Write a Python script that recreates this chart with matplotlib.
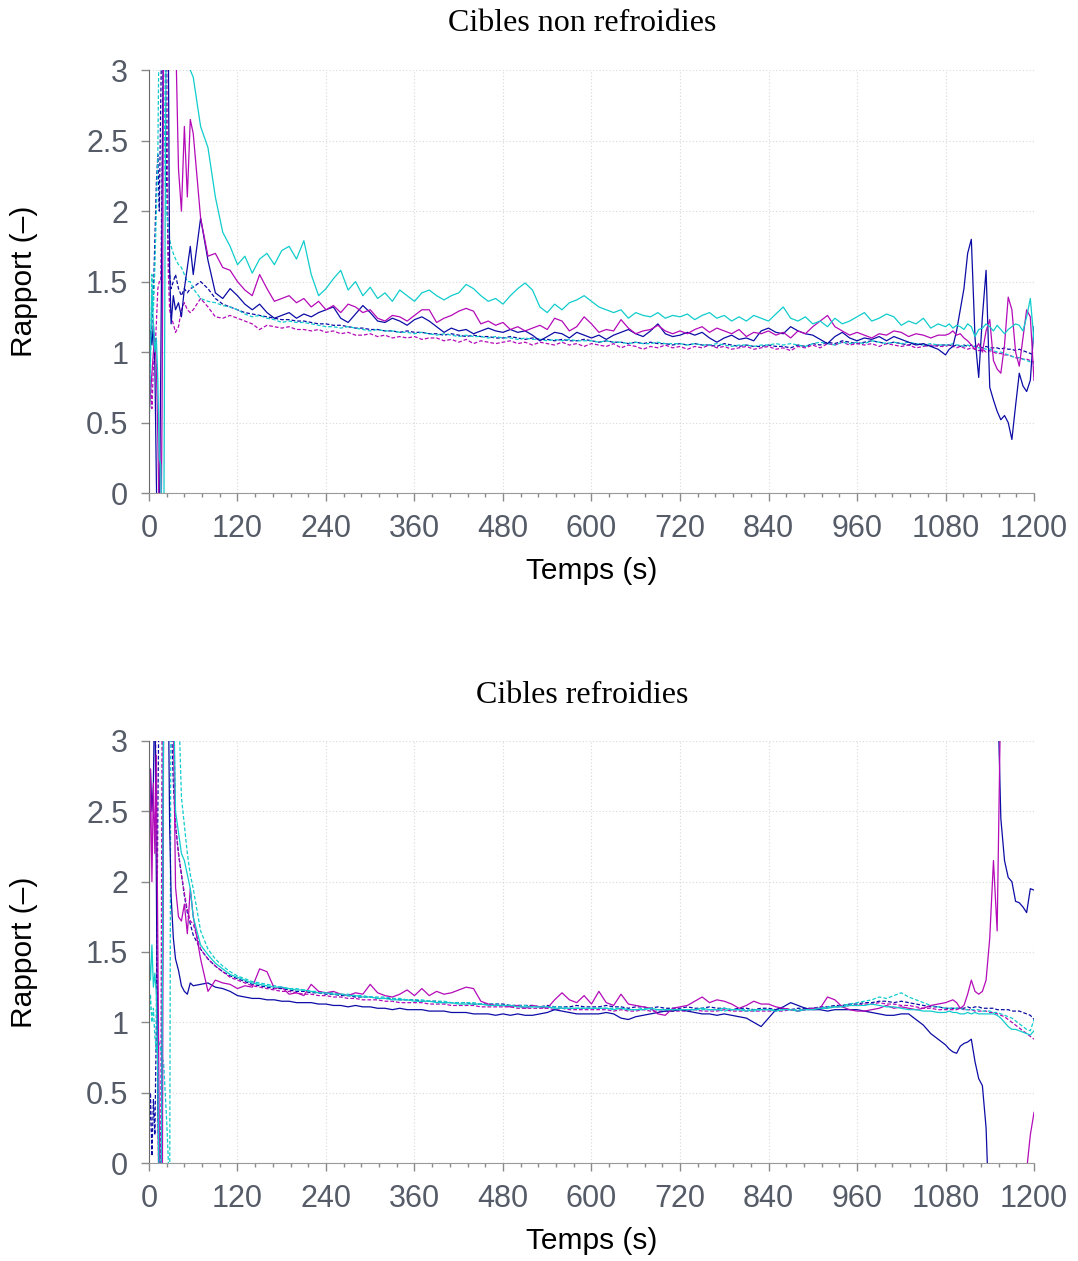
import matplotlib
matplotlib.use("Agg")
import matplotlib.pyplot as plt
from matplotlib.ticker import MultipleLocator, FormatStrFormatter
import numpy as np

# grilles de temps (s)
T_EARLY = [0, 2, 4, 6, 8, 10, 12, 14, 16, 18, 20, 22, 24, 26, 28, 30, 33, 36, 40, 44, 48, 52, 56]
T_MAIN = np.arange(60, 1081, 10)
T_TAIL = np.arange(1085, 1201, 5)
NAN = np.nan

# ---------------- Cibles non refroidies ----------------
top_navy_solid_early = [1.10, 1.15, 1.05, 1.20, 0.90, 0.10, -0.6, -0.3, 0.90, 2.20, 3.60, 4.00,
                        3.80, 3.40, 1.60, 1.20, 1.40, 1.30, 1.35, 1.25, 1.45, 1.60, 1.75]
top_navy_solid_main = [1.55, 1.95, 1.65, 1.42, 1.38, 1.45,
                       1.40, 1.34, 1.30, 1.34, 1.28, 1.24, 1.26, 1.28, 1.24, 1.27, 1.25, 1.28,
                       1.30, 1.32, 1.24, 1.21, 1.27, 1.33, 1.28, 1.22, 1.21, 1.24, 1.22, 1.19,
                       1.23, 1.25, 1.22, 1.18, 1.14, 1.17, 1.15, 1.16, 1.13, 1.15, 1.17, 1.15,
                       1.14, 1.16, 1.14, 1.15, 1.12, 1.08, 1.11, 1.14, 1.13, 1.10, 1.14, 1.12,
                       1.10, 1.12, 1.09, 1.12, 1.14, 1.16, 1.13, 1.11, 1.15, 1.20, 1.13, 1.11,
                       1.12, 1.14, 1.12, 1.14, 1.10, 1.07, 1.10, 1.12, 1.09, 1.10, 1.08, 1.15,
                       1.17, 1.14, 1.13, 1.18, 1.15, 1.13, 1.12, 1.09, 1.06, 1.11, 1.14, 1.10,
                       1.08, 1.10, 1.09, 1.11, 1.08, 1.11, 1.09, 1.07, 1.05, 1.06, 1.04, 1.02,
                       0.98]
top_navy_solid_tail = [1.02, 1.04, 1.15, 1.30, 1.45, 1.70, 1.80, 1.10, 0.82, 1.25, 1.58, 0.75,
                       0.66, 0.58, 0.52, 0.55, 0.50, 0.38, 0.62, 0.85, 0.76, 0.72, 0.80, 1.18]

top_magenta_solid_early = [0.55, 0.70, 0.85, 1.00, 1.10, 0.90, 0.40, -0.3, -0.6, 0.80, 3.50, 4.00,
                           4.00, 4.00, 4.00, 3.80, 3.60, 3.30, 2.30, 2.00, 2.60, 2.10, 2.65]
top_magenta_solid_main = [2.55, 1.95, 1.68, 1.70, 1.60, 1.58,
                          1.50, 1.44, 1.40, 1.55, 1.45, 1.36, 1.38, 1.40, 1.35, 1.38, 1.32, 1.36,
                          1.30, 1.33, 1.28, 1.34, 1.32, 1.28, 1.30, 1.24, 1.22, 1.26, 1.25, 1.22,
                          1.26, 1.30, 1.30, 1.21, 1.24, 1.26, 1.29, 1.31, 1.29, 1.20, 1.22, 1.19,
                          1.21, 1.16, 1.18, 1.15, 1.17, 1.19, 1.16, 1.24, 1.22, 1.15, 1.18, 1.25,
                          1.20, 1.14, 1.16, 1.15, 1.23, 1.17, 1.13, 1.15, 1.16, 1.19, 1.15, 1.13,
                          1.15, 1.13, 1.16, 1.18, 1.14, 1.17, 1.15, 1.13, 1.16, 1.11, 1.14, 1.13,
                          1.15, 1.12, 1.14, 1.10, 1.15, 1.13, 1.18, 1.22, 1.26, 1.18, 1.15, 1.12,
                          1.14, 1.12, 1.10, 1.13, 1.12, 1.15, 1.14, 1.11, 1.13, 1.12, 1.10, 1.12,
                          1.12]
top_magenta_solid_tail = [1.13, 1.15, 1.12, 1.13, 1.10, 1.08, 1.05, 1.02, 1.06, 1.00, 1.15, 1.23,
                          0.94, 0.88, 0.85, 1.05, 1.39, 1.30, 1.00, 0.90, 1.10, 1.30, 1.25, 0.80]

top_cyan_solid_early = [0.40, 1.00, 1.45, 1.20, 1.00, 1.10, 0.80, 0.25, 0.20, -0.4, -0.4, 2.00,
                        4.00, 4.00, 4.00, 4.00, 4.00, 3.60, 3.30, 3.20, 3.40, 3.10, 3.00]
top_cyan_solid_main = [2.95, 2.60, 2.45, 2.10, 1.85, 1.75,
                       1.62, 1.68, 1.56, 1.66, 1.70, 1.62, 1.72, 1.75, 1.66, 1.79, 1.55, 1.40,
                       1.45, 1.52, 1.58, 1.44, 1.50, 1.40, 1.46, 1.38, 1.42, 1.36, 1.44, 1.40,
                       1.36, 1.42, 1.44, 1.40, 1.37, 1.40, 1.42, 1.48, 1.45, 1.40, 1.36, 1.38,
                       1.34, 1.40, 1.45, 1.49, 1.44, 1.32, 1.28, 1.34, 1.30, 1.35, 1.37, 1.40,
                       1.36, 1.32, 1.30, 1.28, 1.30, 1.24, 1.28, 1.26, 1.25, 1.28, 1.24, 1.26,
                       1.25, 1.27, 1.23, 1.26, 1.28, 1.24, 1.26, 1.22, 1.25, 1.22, 1.26, 1.24,
                       1.22, 1.27, 1.32, 1.24, 1.22, 1.25, 1.20, 1.22, 1.18, 1.24, 1.20, 1.22,
                       1.25, 1.28, 1.22, 1.24, 1.27, 1.25, 1.19, 1.22, 1.20, 1.24, 1.17, 1.20,
                       1.18]
top_cyan_solid_tail = [1.20, 1.17, 1.19, 1.18, 1.16, 1.20, 1.18, 1.11, 1.16, 1.17, 1.20, 1.18,
                       1.15, 1.19, 1.16, 1.13, 1.16, 1.18, 1.20, 1.19, 1.15, 1.25, 1.38, 1.08]

top_navy_dash_early = [1.00, 1.10, 1.20, 1.40, 1.80, 2.20, 2.40, 2.00, 2.80, 3.50, 4.00, 3.50,
                       2.20, 1.70, 1.55, 1.45, 1.50, 1.55, 1.45, 1.40, 1.45, 1.42, 1.45]
top_navy_dash_main = [1.46, 1.50, 1.45, 1.38, 1.34, 1.32,
                      1.30, 1.28, 1.27, 1.26, 1.25, 1.24, 1.23, 1.23, 1.22, 1.22, 1.21, 1.20,
                      1.20, 1.19, 1.19, 1.18, 1.17, 1.17, 1.16, 1.16, 1.15, 1.15, 1.14, 1.15,
                      1.14, 1.14, 1.13, 1.13, 1.12, 1.13, 1.12, 1.11, 1.12, 1.11, 1.11, 1.10,
                      1.10, 1.11, 1.10, 1.09, 1.10, 1.09, 1.09, 1.08, 1.09, 1.08, 1.08, 1.09,
                      1.08, 1.07, 1.08, 1.07, 1.07, 1.06, 1.07, 1.06, 1.07, 1.06, 1.06, 1.05,
                      1.06, 1.05, 1.06, 1.05, 1.05, 1.04, 1.06, 1.05, 1.04, 1.05, 1.04, 1.04,
                      1.05, 1.04, 1.04, 1.03, 1.05, 1.04, 1.06, 1.05, 1.07, 1.06, 1.08, 1.07,
                      1.06, 1.07, 1.08, 1.07, 1.06, 1.07, 1.06, 1.05, 1.06, 1.05, 1.04, 1.05,
                      1.05]
top_navy_dash_tail = [1.05, 1.04, 1.05, 1.04, 1.05, 1.04, 1.05, 1.04, 1.04, 1.03, 1.04, 1.03,
                      1.03, 1.03, 1.02, 1.03, 1.02, 1.02, 1.01, 1.02, 1.01, 1.00, 0.99, 0.98]

top_magenta_dash_early = [0.70, 0.80, 0.60, 0.90, 1.00, 1.20, 1.45, 1.50, 1.50, 2.40, 3.50, 3.80,
                          3.20, 1.60, 1.30, 1.25, 1.20, 1.14, 1.18, 1.30, 1.35, 1.30, 1.28]
top_magenta_dash_main = [1.30, 1.38, 1.32, 1.25, 1.24, 1.26,
                         1.24, 1.22, 1.20, 1.16, 1.19, 1.18, 1.17, 1.18, 1.16, 1.16, 1.15, 1.16,
                         1.14, 1.15, 1.13, 1.14, 1.12, 1.12, 1.13, 1.11, 1.12, 1.10, 1.11, 1.10,
                         1.11, 1.09, 1.10, 1.10, 1.08, 1.09, 1.07, 1.09, 1.06, 1.08, 1.07, 1.06,
                         1.07, 1.08, 1.06, 1.07, 1.05, 1.07, 1.06, 1.05, 1.07, 1.05, 1.06, 1.04,
                         1.06, 1.05, 1.04, 1.06, 1.03, 1.05, 1.04, 1.02, 1.04, 1.03, 1.05, 1.03,
                         1.04, 1.02, 1.04, 1.03, 1.05, 1.03, 1.04, 1.02, 1.03, 1.04, 1.02, 1.03,
                         1.04, 1.02, 1.03, 1.01, 1.04, 1.03, 1.05, 1.03, 1.06, 1.05, 1.07, 1.05,
                         1.06, 1.05, 1.06, 1.04, 1.06, 1.05, 1.04, 1.05, 1.03, 1.04, 1.05, 1.04,
                         1.04]
top_magenta_dash_tail = [1.05, 1.04, 1.03, 1.04, 1.03, 1.02, 1.03, 1.02, 1.01, 1.02, 1.00, 1.01,
                         1.00, 0.99, 0.99, 0.98, 0.98, 0.97, 0.96, 0.96, 0.95, 0.95, 0.94, 0.93]

top_cyan_dash_early = [0.40, 0.90, 1.55, 1.30, 1.60, 2.00, 2.40, 3.50, 4.00, 3.80, 3.00, 2.20,
                       2.00, 1.90, 1.80, 1.75, 1.70, 1.66, 1.62, 1.60, 1.55, 1.50, 1.50]
top_cyan_dash_main = [1.45, 1.38, 1.36, 1.35, 1.33, 1.32,
                      1.30, 1.27, 1.25, 1.26, 1.24, 1.23, 1.21, 1.22, 1.21, 1.21, 1.20, 1.19,
                      1.18, 1.18, 1.17, 1.18, 1.17, 1.16, 1.15, 1.16, 1.15, 1.15, 1.14, 1.14,
                      1.13, 1.14, 1.13, 1.12, 1.13, 1.12, 1.11, 1.12, 1.11, 1.11, 1.10, 1.11,
                      1.10, 1.10, 1.09, 1.10, 1.09, 1.09, 1.08, 1.09, 1.08, 1.09, 1.08, 1.08,
                      1.08, 1.07, 1.08, 1.07, 1.07, 1.06, 1.07, 1.06, 1.06, 1.07, 1.06, 1.06,
                      1.06, 1.05, 1.06, 1.05, 1.05, 1.06, 1.05, 1.04, 1.05, 1.05, 1.04, 1.05,
                      1.05, 1.06, 1.05, 1.06, 1.05, 1.04, 1.06, 1.07, 1.06, 1.05, 1.07, 1.06,
                      1.07, 1.06, 1.08, 1.07, 1.06, 1.07, 1.06, 1.07, 1.06, 1.05, 1.06, 1.05,
                      1.05]
top_cyan_dash_tail = [1.05, 1.06, 1.05, 1.05, 1.04, 1.05, 1.04, 1.04, 1.03, 1.03, 1.02, 1.02,
                      1.01, 1.00, 1.00, 0.99, 0.98, 0.97, 0.96, 0.96, 0.95, 0.94, 0.93, 0.92]

# ---------------- Cibles refroidies ----------------
bot_navy_solid_early = [2.60, 2.80, 2.50, 2.70, 3.50, 2.00, 0.50, -0.5, -0.5, 1.00, 3.50, 4.00,
                        4.00, 3.50, 2.40, 1.90, 1.60, 1.45, 1.37, 1.26, 1.22, 1.20, 1.28]
bot_navy_solid_main = [1.26, 1.27, 1.28, 1.25, 1.24, 1.22,
                       1.19, 1.18, 1.17, 1.17, 1.16, 1.16, 1.15, 1.15, 1.14, 1.14, 1.14, 1.13,
                       1.13, 1.12, 1.12, 1.11, 1.12, 1.11, 1.11, 1.10, 1.10, 1.09, 1.10, 1.09,
                       1.09, 1.09, 1.08, 1.08, 1.08, 1.07, 1.07, 1.07, 1.06, 1.06, 1.06, 1.05,
                       1.06, 1.05, 1.06, 1.05, 1.05, 1.06, 1.07, 1.09, 1.08, 1.07, 1.06, 1.06,
                       1.06, 1.06, 1.07, 1.06, 1.03, 1.02, 1.04, 1.05, 1.06, 1.07, 1.08, 1.08,
                       1.09, 1.08, 1.07, 1.06, 1.06, 1.05, 1.06, 1.05, 1.04, 1.03, 1.00, 0.97,
                       1.03, 1.09, 1.11, 1.14, 1.12, 1.10, 1.09, 1.09, 1.08, 1.09, 1.09, 1.09,
                       1.09, 1.08, 1.07, 1.06, 1.05, 1.05, 1.06, 1.06, 1.02, 0.98, 0.92, 0.88,
                       0.84]
bot_navy_solid_tail = [0.81, 0.79, 0.78, 0.83, 0.85, 0.86, 0.88, 0.72, 0.60, 0.55, 0.25, -0.5,
                       NAN, 3.50, 2.45, 2.15, 2.03, 2.00, 1.86, 1.85, 1.82, 1.78, 1.95, 1.94]

bot_magenta_solid_early = [1.70, 2.80, 2.00, 2.70, 2.20, 2.90, 1.50, 0.20, -0.5, -0.5, 3.50, 4.00,
                           4.00, 4.00, 4.00, 3.60, 3.20, 1.96, 1.75, 1.72, 1.84, 1.63, 1.95]
bot_magenta_solid_main = [1.75, 1.45, 1.22, 1.30, 1.28, 1.27,
                          1.24, 1.26, 1.25, 1.38, 1.36, 1.24, 1.25, 1.20, 1.21, 1.19, 1.27, 1.22,
                          1.21, 1.22, 1.20, 1.19, 1.21, 1.20, 1.27, 1.21, 1.19, 1.18, 1.20, 1.23,
                          1.19, 1.24, 1.19, 1.22, 1.20, 1.21, 1.23, 1.25, 1.24, 1.15, 1.13, 1.12,
                          1.12, 1.11, 1.12, 1.10, 1.12, 1.11, 1.10, 1.16, 1.21, 1.16, 1.14, 1.19,
                          1.13, 1.22, 1.14, 1.12, 1.20, 1.13, 1.12, 1.11, 1.10, 1.06, 1.05, 1.10,
                          1.11, 1.12, 1.15, 1.18, 1.14, 1.16, 1.15, 1.13, 1.10, 1.12, 1.15, 1.13,
                          1.13, 1.11, 1.10, 1.09, 1.08, 1.09, 1.10, 1.10, 1.18, 1.16, 1.11, 1.09,
                          1.08, 1.08, 1.09, 1.10, 1.12, 1.10, 1.11, 1.10, 1.09, 1.10, 1.12, 1.13,
                          1.14]
bot_magenta_solid_tail = [1.15, 1.16, 1.14, 1.10, 1.12, 1.20, 1.30, 1.22, 1.20, 1.22, 1.30, 1.60,
                          2.15, 1.65, 3.40, NAN, NAN, NAN, NAN, NAN, NAN, -0.05, 0.20, 0.36]

bot_cyan_solid_early = [1.50, 1.30, 1.55, 1.25, 1.35, 1.20, 0.60, -0.3, -0.5, 1.00, 3.50, 4.00,
                        4.00, 4.00, 4.00, 4.00, 3.50, 2.50, 2.35, 2.20, 2.15, 2.05, 1.95]
bot_cyan_solid_main = [1.75, 1.55, 1.48, 1.42, 1.38, 1.34,
                       1.32, 1.30, 1.28, 1.27, 1.26, 1.25, 1.25, 1.24, 1.23, 1.23, 1.22, 1.21,
                       1.21, 1.20, 1.20, 1.19, 1.19, 1.18, 1.18, 1.17, 1.17, 1.16, 1.16, 1.16,
                       1.15, 1.15, 1.15, 1.14, 1.14, 1.14, 1.13, 1.13, 1.13, 1.13, 1.12, 1.12,
                       1.12, 1.12, 1.11, 1.11, 1.11, 1.11, 1.11, 1.10, 1.10, 1.10, 1.10, 1.10,
                       1.10, 1.10, 1.10, 1.09, 1.10, 1.09, 1.09, 1.09, 1.10, 1.09, 1.09, 1.09,
                       1.09, 1.09, 1.09, 1.10, 1.09, 1.09, 1.10, 1.09, 1.09, 1.08, 1.09, 1.09,
                       1.09, 1.08, 1.09, 1.09, 1.08, 1.09, 1.09, 1.10, 1.10, 1.11, 1.11, 1.12,
                       1.12, 1.12, 1.13, 1.12, 1.11, 1.11, 1.10, 1.09, 1.09, 1.08, 1.08, 1.07,
                       1.07]
bot_cyan_solid_tail = [1.08, 1.07, 1.07, 1.06, 1.06, 1.07, 1.06, 1.07, 1.06, 1.06, 1.06, 1.06,
                       1.06, 1.05, 1.03, 1.00, 0.97, 0.95, 0.95, 0.94, 0.93, 0.92, 0.91, 0.94]

bot_navy_dash_early = [0.10, 0.50, 0.05, 0.45, 0.20, 1.00, 2.50, 3.50, 4.00, 4.00, 4.00, 4.00,
                       4.00, 4.00, 3.60, 3.20, 2.70, 2.40, 2.20, 2.05, 1.90, 1.78, 1.70]
bot_navy_dash_main = [1.62, 1.52, 1.45, 1.40, 1.36, 1.33,
                      1.31, 1.29, 1.27, 1.26, 1.25, 1.24, 1.24, 1.23, 1.22, 1.22, 1.21, 1.21,
                      1.20, 1.20, 1.19, 1.19, 1.18, 1.18, 1.18, 1.17, 1.17, 1.17, 1.16, 1.16,
                      1.16, 1.15, 1.15, 1.15, 1.14, 1.14, 1.14, 1.14, 1.13, 1.13, 1.13, 1.13,
                      1.13, 1.12, 1.12, 1.12, 1.12, 1.11, 1.12, 1.11, 1.11, 1.11, 1.12, 1.11,
                      1.11, 1.11, 1.12, 1.11, 1.11, 1.10, 1.11, 1.11, 1.10, 1.11, 1.10, 1.10,
                      1.10, 1.11, 1.10, 1.10, 1.11, 1.10, 1.10, 1.09, 1.10, 1.10, 1.09, 1.10,
                      1.10, 1.09, 1.10, 1.09, 1.10, 1.10, 1.10, 1.11, 1.11, 1.12, 1.12, 1.13,
                      1.13, 1.14, 1.14, 1.15, 1.15, 1.14, 1.15, 1.14, 1.13, 1.12, 1.11, 1.11,
                      1.10]
bot_navy_dash_tail = [1.10, 1.10, 1.10, 1.10, 1.10, 1.11, 1.10, 1.11, 1.11, 1.10, 1.10, 1.10,
                      1.10, 1.09, 1.09, 1.09, 1.09, 1.08, 1.08, 1.08, 1.07, 1.06, 1.05, 1.02]

bot_magenta_dash_early = [3.50, 3.20, 3.50, 3.00, 3.50, 2.50, 0.50, -0.5, 0.30, 3.50, 4.00, 4.00,
                          4.00, 4.00, 4.00, 3.80, 3.40, 2.40, 2.20, 2.05, 1.92, 1.80, 1.72]
bot_magenta_dash_main = [1.70, 1.52, 1.45, 1.40, 1.36, 1.32,
                         1.30, 1.28, 1.26, 1.25, 1.24, 1.23, 1.22, 1.22, 1.21, 1.20, 1.20, 1.19,
                         1.19, 1.18, 1.18, 1.17, 1.17, 1.16, 1.16, 1.16, 1.15, 1.15, 1.14, 1.14,
                         1.14, 1.14, 1.13, 1.13, 1.13, 1.12, 1.12, 1.12, 1.12, 1.11, 1.11, 1.11,
                         1.11, 1.11, 1.10, 1.10, 1.10, 1.10, 1.10, 1.09, 1.10, 1.09, 1.09, 1.09,
                         1.09, 1.09, 1.09, 1.08, 1.09, 1.08, 1.08, 1.09, 1.08, 1.08, 1.08, 1.08,
                         1.08, 1.08, 1.09, 1.08, 1.08, 1.08, 1.09, 1.08, 1.08, 1.08, 1.08, 1.08,
                         1.08, 1.08, 1.08, 1.09, 1.08, 1.09, 1.09, 1.10, 1.10, 1.11, 1.11, 1.12,
                         1.12, 1.13, 1.13, 1.14, 1.13, 1.13, 1.12, 1.12, 1.11, 1.10, 1.10, 1.09,
                         1.09]
bot_magenta_dash_tail = [1.09, 1.09, 1.09, 1.10, 1.09, 1.09, 1.09, 1.08, 1.08, 1.08, 1.08, 1.07,
                         1.07, 1.06, 1.05, 1.04, 1.02, 1.00, 0.98, 0.96, 0.94, 0.92, 0.90, 0.88]

bot_cyan_dash_early = [1.00, 1.20, 1.00, 1.10, 0.90, 0.80, 0.90, 0.85, 0.80, 0.75, 0.70, 0.50,
                       0.30, 0.05, -0.4, 4.00, 4.00, 4.00, 3.30, 2.60, 2.40, 2.20, 2.05]
bot_cyan_dash_main = [1.95, 1.65, 1.52, 1.45, 1.40, 1.36,
                      1.33, 1.31, 1.29, 1.28, 1.27, 1.26, 1.25, 1.24, 1.24, 1.23, 1.22, 1.22,
                      1.21, 1.21, 1.20, 1.20, 1.19, 1.19, 1.18, 1.18, 1.18, 1.17, 1.17, 1.16,
                      1.16, 1.16, 1.15, 1.15, 1.15, 1.14, 1.14, 1.14, 1.14, 1.13, 1.13, 1.13,
                      1.12, 1.12, 1.12, 1.12, 1.11, 1.11, 1.11, 1.11, 1.11, 1.10, 1.10, 1.10,
                      1.10, 1.10, 1.10, 1.10, 1.10, 1.09, 1.09, 1.10, 1.09, 1.09, 1.09, 1.09,
                      1.09, 1.09, 1.09, 1.09, 1.09, 1.09, 1.08, 1.09, 1.09, 1.09, 1.08, 1.09,
                      1.09, 1.09, 1.09, 1.09, 1.09, 1.09, 1.10, 1.10, 1.11, 1.11, 1.12, 1.13,
                      1.14, 1.15, 1.16, 1.18, 1.17, 1.19, 1.21, 1.18, 1.16, 1.14, 1.12, 1.11,
                      1.10]
bot_cyan_dash_tail = [1.10, 1.10, 1.10, 1.10, 1.09, 1.09, 1.09, 1.09, 1.09, 1.08, 1.08, 1.08,
                      1.07, 1.07, 1.06, 1.05, 1.04, 1.03, 1.01, 0.99, 0.97, 0.95, 0.94, 1.02]

NAVY = "#0c0ca6"
MAGENTA = "#b40ab8"
CYAN = "#10cccc"
TICK_COLOR = "#555c68"


def serie(early, main, tail):
    t = np.concatenate([T_EARLY, T_MAIN, T_TAIL])
    y = np.concatenate([early, main, tail])
    return t, y


def draw_panel(ax, curves):
    for early, main, tail, color, dashed in curves:
        t, y = serie(early, main, tail)
        if dashed:
            ax.plot(t, y, color=color, lw=0.9, linestyle=(0, (3, 1.6)))
        else:
            ax.plot(t, y, color=color, lw=0.9)

    ax.set_xlim(0, 1200)
    ax.set_ylim(0, 3)
    ax.xaxis.set_major_locator(MultipleLocator(120))
    ax.xaxis.set_minor_locator(MultipleLocator(24))
    ax.yaxis.set_major_locator(MultipleLocator(0.5))
    ax.yaxis.set_major_formatter(FormatStrFormatter("%g"))
    ax.grid(True, which="major", color="#d8d8d8", linestyle=(0, (1, 2)), lw=0.8)
    for side in ("top", "right"):
        ax.spines[side].set_visible(False)
    ax.spines["left"].set_color("#6a6a6a")
    ax.spines["bottom"].set_color("#9a9a9a")
    ax.tick_params(axis="both", which="major", labelsize=22, colors="#8a8a8a",
                   labelcolor=TICK_COLOR, length=6, width=1, pad=9)
    ax.tick_params(axis="x", which="minor", colors="#8a8a8a", length=3, width=1)
    for lab in ax.get_xticklabels() + ax.get_yticklabels():
        lab.set_family("Liberation Sans")
    ax.set_xlabel("Temps (s)", fontsize=21.5, family="Liberation Sans", color="black")
    ax.set_ylabel("Rapport (\u2013)", fontsize=21.5, family="Liberation Sans", color="black")
    ax.xaxis.set_label_coords(0.5, -0.152)
    ax.yaxis.set_label_coords(-0.125, 0.5)


fig = plt.figure(figsize=(10.78, 12.61), dpi=100)
ax_top = fig.add_axes([0.1382, 0.609, 0.821, 0.3354])
ax_bot = fig.add_axes([0.1382, 0.0777, 0.821, 0.3347])

draw_panel(ax_top, [
    (top_navy_dash_early, top_navy_dash_main, top_navy_dash_tail, NAVY, True),
    (top_magenta_dash_early, top_magenta_dash_main, top_magenta_dash_tail, MAGENTA, True),
    (top_cyan_dash_early, top_cyan_dash_main, top_cyan_dash_tail, CYAN, True),
    (top_navy_solid_early, top_navy_solid_main, top_navy_solid_tail, NAVY, False),
    (top_magenta_solid_early, top_magenta_solid_main, top_magenta_solid_tail, MAGENTA, False),
    (top_cyan_solid_early, top_cyan_solid_main, top_cyan_solid_tail, CYAN, False),
])
draw_panel(ax_bot, [
    (bot_navy_dash_early, bot_navy_dash_main, bot_navy_dash_tail, NAVY, True),
    (bot_magenta_dash_early, bot_magenta_dash_main, bot_magenta_dash_tail, MAGENTA, True),
    (bot_cyan_dash_early, bot_cyan_dash_main, bot_cyan_dash_tail, CYAN, True),
    (bot_navy_solid_early, bot_navy_solid_main, bot_navy_solid_tail, NAVY, False),
    (bot_magenta_solid_early, bot_magenta_solid_main, bot_magenta_solid_tail, MAGENTA, False),
    (bot_cyan_solid_early, bot_cyan_solid_main, bot_cyan_solid_tail, CYAN, False),
])

fig.text(0.540, 0.981, "Cibles non refroidies", ha="center", va="center",
         family="Liberation Serif", fontsize=23)
fig.text(0.540, 0.4485, "Cibles refroidies", ha="center", va="center",
         family="Liberation Serif", fontsize=23)

fig.savefig("out.png", dpi=100)
